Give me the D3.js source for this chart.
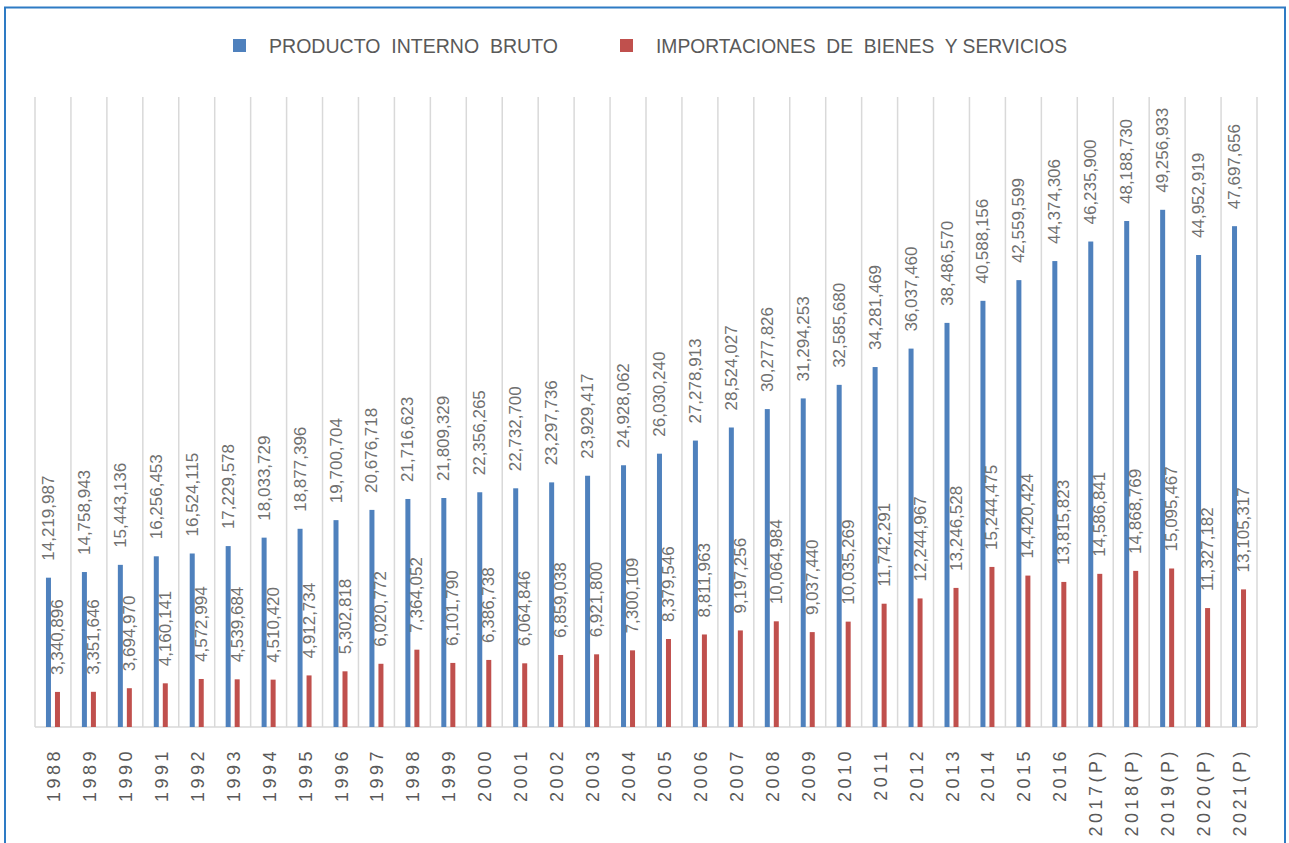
<!DOCTYPE html>
<html>
<head>
<meta charset="utf-8">
<script src="https://cdn.jsdelivr.net/npm/d3@7/dist/d3.min.js"></script>
<style>
  html, body { margin: 0; padding: 0; background: #fff; }
  svg { display: block; }
</style>
</head>
<body>
<svg id="chart" width="1289" height="843"></svg>
<script>
// Years (P = preliminary figures)
const years = [
  "1988","1989","1990","1991","1992","1993","1994","1995","1996","1997",
  "1998","1999","2000","2001","2002","2003","2004","2005","2006","2007",
  "2008","2009","2010","2011","2012","2013","2014","2015","2016",
  "2017(P)","2018(P)","2019(P)","2020(P)","2021(P)"
];

// Producto interno bruto
const pib = [
  14219987, 14758943, 15443136, 16256453, 16524115, 17229578, 18033729, 18877396, 19700704, 20676718,
  21716623, 21809329, 22356265, 22732700, 23297736, 23929417, 24928062, 26030240, 27278913, 28524027,
  30277826, 31294253, 32585680, 34281469, 36037460, 38486570, 40588156, 42559599, 44374306,
  46235900, 48188730, 49256933, 44952919, 47697656
];

// Importaciones de bienes y servicios
const importaciones = [
  3340896, 3351646, 3694970, 4160141, 4572994, 4539684, 4510420, 4912734, 5302818, 6020772,
  7364052, 6101790, 6386738, 6064846, 6859038, 6921800, 7300109, 8379546, 8811963, 9197256,
  10064984, 9037440, 10035269, 11742291, 12244967, 13246528, 15244475, 14420424, 13815823,
  14586841, 14868769, 15095467, 11327182, 13105317
];

const seriesNames = ["PRODUCTO  INTERNO  BRUTO", "IMPORTACIONES  DE  BIENES  Y SERVICIOS"];
const seriesColors = ["#4F81BD", "#C0504D"];
const yMax = 60000000;

const svg = d3.select("#chart");
const W = 1289, H = 843;

// Frame
svg.append("rect")
  .attr("x", 5).attr("y", 7.5)
  .attr("width", 1280).attr("height", 900)
  .attr("fill", "#fff")
  .attr("stroke", "#2E7BC4").attr("stroke-width", 2);

const plot = { left: 35, right: 1257, top: 97, bottom: 727 };

const x = d3.scaleBand().domain(years).range([plot.left, plot.right]).padding(0);
const bw = x.bandwidth();
const keys = ["pib", "imp"];
const x1 = d3.scaleBand().domain(keys)
  .range([bw / 2 - 7, bw / 2 + 7])
  .paddingInner(4 / 9).paddingOuter(0);
const y = d3.scaleLinear().domain([0, yMax]).range([plot.bottom, plot.top]);

const rows = years.map((yr, i) => ({ year: yr, pib: pib[i], imp: importaciones[i] }));

// Vertical gridlines at category boundaries
const bounds = years.map(d => x(d)).concat([plot.right]);
svg.append("g")
  .selectAll("line")
  .data(bounds)
  .join("line")
  .attr("x1", d => d).attr("x2", d => d)
  .attr("y1", plot.top).attr("y2", plot.bottom)
  .attr("stroke", "#D9D9D9").attr("stroke-width", 1.5);

// Baseline
svg.append("line")
  .attr("x1", plot.left).attr("x2", plot.right)
  .attr("y1", plot.bottom).attr("y2", plot.bottom)
  .attr("stroke", "#D9D9D9").attr("stroke-width", 1.5);

// Bars
const fmt = d3.format(",");
const groups = svg.append("g")
  .selectAll("g")
  .data(rows)
  .join("g")
  .attr("transform", d => `translate(${x(d.year)},0)`);

keys.forEach((k, ki) => {
  groups.append("rect")
    .attr("x", x1(k))
    .attr("width", x1.bandwidth())
    .attr("y", d => y(d[k]))
    .attr("height", d => y(0) - y(d[k]))
    .attr("fill", seriesColors[ki]);
});

// Value labels, rotated
keys.forEach((k) => {
  groups.append("text")
    .attr("transform", d => `translate(${x1(k) + x1.bandwidth() / 2},${y(d[k]) - 17}) rotate(-90)`)
    .attr("text-anchor", "start")
    .attr("dominant-baseline", "central")
    .attr("font-family", "'Liberation Sans', Arial, sans-serif")
    .attr("font-size", 17)
    .attr("fill", "#707070")
    .text(d => fmt(d[k]));
});

// Category axis labels
svg.append("g")
  .selectAll("text")
  .data(years)
  .join("text")
  .attr("transform", d => `translate(${x(d) + bw / 2 + 1},748) rotate(-90)`)
  .attr("text-anchor", "end")
  .attr("dominant-baseline", "central")
  .attr("font-family", "'Liberation Sans', Arial, sans-serif")
  .attr("font-size", 18)
  .attr("letter-spacing", 3.5)
  .attr("fill", "#595959")
  .text(d => d);

// Legend
const legendItems = [
  { name: seriesNames[0], color: seriesColors[0], sx: 233, tx: 269, len: 289 },
  { name: seriesNames[1], color: seriesColors[1], sx: 620, tx: 656, len: 411 }
];
const lg = svg.append("g");
legendItems.forEach(it => {
  lg.append("rect")
    .attr("x", it.sx).attr("y", 39)
    .attr("width", 13).attr("height", 13)
    .attr("fill", it.color);
  lg.append("text")
    .attr("x", it.tx).attr("y", 53)
    .attr("font-family", "'Liberation Sans Narrow', 'Liberation Sans', Arial, sans-serif")
    .attr("font-size", 21)
    .attr("fill", "#595959")
    .attr("textLength", it.len)
    .attr("lengthAdjust", "spacingAndGlyphs")
    .style("white-space", "pre")
    .text(it.name);
});
</script>
</body>
</html>
